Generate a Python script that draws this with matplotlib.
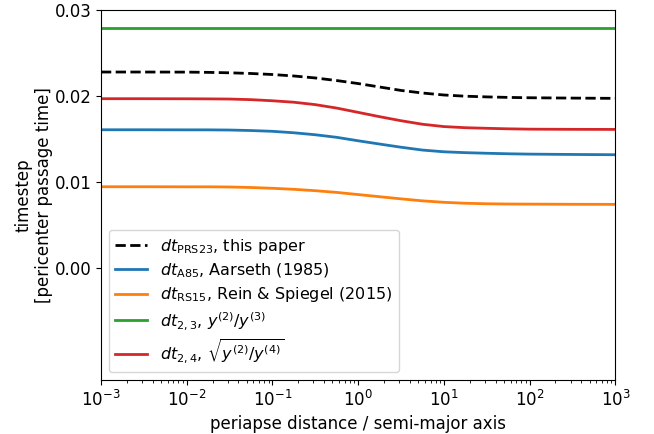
import numpy as np
import matplotlib.pyplot as plt

# periapse distance / semi-major axis (log10 sample points)
logq = [-3, -2.5, -2, -1.75, -1.5, -1.25, -1, -0.75, -0.5, -0.25, 0,
        0.25, 0.5, 0.75, 1, 1.25, 1.5, 1.75, 2, 2.5, 3]

dt_prs23 = [0.02279, 0.02279, 0.02278, 0.02275, 0.0227, 0.02262, 0.0225, 0.02233, 0.0221, 0.0218, 0.02145,
            0.02105, 0.02065, 0.02035, 0.02012, 0.01998, 0.0199, 0.01984, 0.0198, 0.01976, 0.01973]
dt_a85 = [0.01608, 0.01608, 0.01607, 0.01607, 0.01605, 0.01599, 0.0159, 0.01573, 0.0155, 0.0152, 0.0148,
          0.01442, 0.01405, 0.01372, 0.01352, 0.01342, 0.01335, 0.01329, 0.01325, 0.01321, 0.01318]
dt_rs15 = [0.00946, 0.00946, 0.00945, 0.00945, 0.00943, 0.00937, 0.00928, 0.00916, 0.009, 0.0088, 0.00855,
           0.0083, 0.00805, 0.00782, 0.00765, 0.00754, 0.00748, 0.00745, 0.00744, 0.00742, 0.00741]
dt_23 = [0.0279] * len(logq)
dt_24 = [0.01969, 0.01969, 0.01968, 0.01967, 0.01965, 0.01958, 0.01945, 0.01928, 0.019, 0.0186, 0.0181,
         0.0176, 0.01713, 0.01672, 0.01645, 0.01632, 0.01625, 0.01619, 0.01615, 0.01613, 0.01612]

q = 10.0 ** np.array(logq)

fig = plt.figure(figsize=(6.54, 4.34), dpi=100)
ax = fig.add_axes([0.1544, 0.1244, 0.7866, 0.8526])

ax.plot(q, dt_prs23, color="k", ls="--", lw=2, label=r"$dt_\mathrm{PRS23}$, this paper")
ax.plot(q, dt_a85, color="tab:blue", lw=2, label=r"$dt_\mathrm{A85}$, Aarseth (1985)")
ax.plot(q, dt_rs15, color="tab:orange", lw=2, label=r"$dt_\mathrm{RS15}$, Rein & Spiegel (2015)")
ax.plot(q, dt_23, color="tab:green", lw=2, label=r"$dt_{2,3}$, $y^{(2)}/y^{(3)}$")
ax.plot(q, dt_24, color="tab:red", lw=2, label=r"$dt_{2,4}$, $\sqrt{y^{(2)}/y^{(4)}}$")

ax.set_xscale("log")
ax.set_xlim(1e-3, 1e3)
ax.set_ylim(-0.013, 0.03)
ax.set_yticks([0.0, 0.01, 0.02, 0.03])
ax.set_xlabel("periapse distance / semi-major axis", size=12)
ax.set_ylabel("timestep\n[pericenter passage time]", size=12, labelpad=1)
ax.tick_params(labelsize=12)
ax.legend(loc="lower left", fontsize=11.5, labelspacing=0.35, handlelength=2.0)

plt.savefig("out.png", dpi=100)
